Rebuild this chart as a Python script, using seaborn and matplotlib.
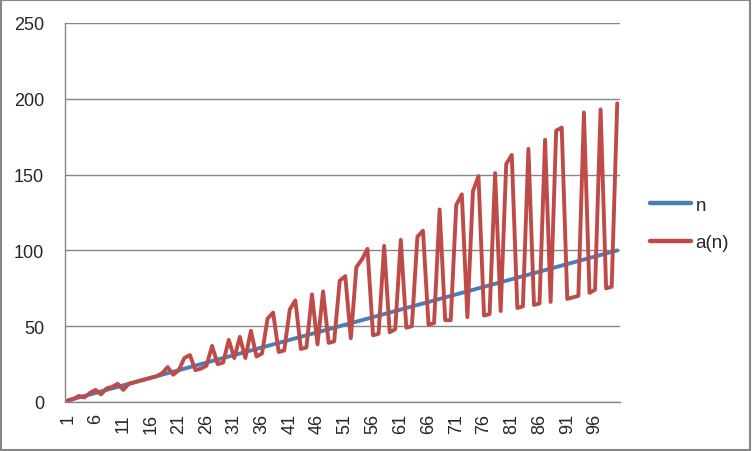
import numpy as np
import pandas as pd
import matplotlib
matplotlib.use("Agg")
import matplotlib.pyplot as plt
from matplotlib.patches import Rectangle
import seaborn as sns

# ---------------------------------------------------------------------------
# Data
# ---------------------------------------------------------------------------

n_values = list(range(1, 101))

a_values = [
    1, 2, 4, 3, 6, 8, 5, 9, 10, 12,
    8, 12, 13, 14, 15, 16, 17, 19, 23, 18,
    21, 29, 31, 21, 22, 24, 37, 25, 26, 41,
    29, 43, 29, 47, 30, 32, 55, 59, 33, 34,
    61, 67, 35, 36, 71, 38, 73, 39, 40, 80,
    83, 42, 89, 94, 101, 44, 45, 103, 46, 48,
    107, 49, 50, 109, 113, 51, 52, 127, 54, 54,
    130, 137, 56, 139, 149, 57, 58, 151, 60, 157,
    163, 62, 63, 167, 64, 65, 173, 66, 179, 181,
    68, 69, 70, 191, 72, 74, 193, 75, 76, 197,
]

series_names = ["n", "a(n)"]
series_colors = {"n": "#4A7EBB", "a(n)": "#BE4B48"}

y_ticks = [0, 50, 100, 150, 200, 250]
x_label_positions = list(range(1, 101, 5))

# ---------------------------------------------------------------------------
# Plot
# ---------------------------------------------------------------------------

df = pd.DataFrame({
    "x": n_values * 2,
    "value": n_values + a_values,
    "series": ["n"] * len(n_values) + ["a(n)"] * len(a_values),
})

sns.set_style("white")
plt.rcParams["font.family"] = ["Liberation Sans", "DejaVu Sans"]

fig = plt.figure(figsize=(7.52, 4.52), dpi=100, facecolor="white")
ax = fig.add_axes([65 / 752, 1 - 403 / 452, 555 / 752, 379 / 452])

grid_color = "#868686"

sns.lineplot(data=df, x="x", y="value", hue="series", hue_order=series_names,
             palette=series_colors, linewidth=2.8, ax=ax, legend=True)

ax.set_xlim(0.5, 100.5)
ax.set_ylim(0, 250)
ax.set_yticks(y_ticks)
ax.set_yticklabels([str(v) for v in y_ticks], fontsize=13)
ax.yaxis.grid(True, color=grid_color, linewidth=1.0)
ax.set_axisbelow(True)

ax.set_xticks(x_label_positions)
ax.set_xticklabels([str(v) for v in x_label_positions], rotation=90, fontsize=13)
ax.set_xticks(np.arange(0.5, 101, 1.0), minor=True)
ax.tick_params(axis="x", which="major", length=0, pad=8)
ax.tick_params(axis="x", which="minor", length=5, color=grid_color, width=1)
ax.tick_params(axis="y", which="major", length=5, color=grid_color, width=1, pad=10)

for side in ["top", "right"]:
    ax.spines[side].set_visible(False)
for side in ["left", "bottom"]:
    ax.spines[side].set_color(grid_color)
    ax.spines[side].set_linewidth(1.0)

ax.set_xlabel("")
ax.set_ylabel("")

leg = ax.legend(loc="center left", bbox_to_anchor=(1.04, 0.47), frameon=False,
                fontsize=13.5, handlelength=2.2, handletextpad=0.25,
                labelspacing=1.1, borderaxespad=0.0)
for line in leg.get_lines():
    line.set_linewidth(3.2)

# outer chart border
fig.patches.append(Rectangle((0.001, 0.002), 0.997, 0.995, transform=fig.transFigure,
                             fill=False, edgecolor=grid_color, linewidth=1.5))

fig.savefig("out.png", dpi=100, facecolor="white")
